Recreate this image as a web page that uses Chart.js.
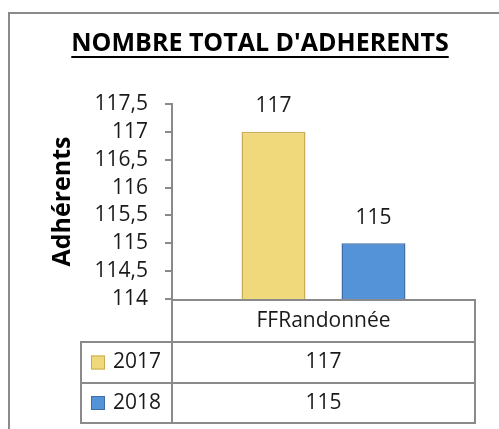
<!DOCTYPE html>
<html>
<head>
<meta charset="utf-8">
<script src="https://cdn.jsdelivr.net/npm/chart.js@4.4.0/dist/chart.umd.min.js"></script>
<style>
  html,body{margin:0;padding:0;background:#fff;}
  canvas{display:block;}
</style>
</head>
<body>
<canvas id="chart" width="499" height="429"></canvas>
<script>
// data
const chartTitle = "NOMBRE TOTAL D'ADHERENTS";
const yTitle = "Adhérents";
const categories = ["FFRandonnée"];
const seriesNames = ["2017", "2018"];
const values2017 = [117];
const values2018 = [115];
const yMin = 114, yMax = 117.5, yStep = 0.5;

const colors = { "2017": "#efd97a", "2018": "#5593d9" };
const borders = { "2017": "#c9ac55", "2018": "#3e6da8" };
const FONT = "'Open Sans', sans-serif";
const GRAY = "#8a8a8a";

const fmt = v => String(v).replace(".", ",");

// frame + title
const framePlugin = {
  id: "frame",
  beforeDraw(chart){
    const c = chart.ctx;
    c.save();
    c.strokeStyle = GRAY; c.lineWidth = 2;
    c.beginPath();
    c.moveTo(9, chart.height); c.lineTo(9, 13); c.lineTo(chart.width, 13);
    c.stroke();
    c.fillStyle = "#000";
    c.font = "bold 25px " + FONT;
    c.textAlign = "center"; c.textBaseline = "alphabetic";
    c.fillText(chartTitle, 260, 51);
    const w = c.measureText(chartTitle).width;
    c.fillRect(260 - w/2, 56, w, 2);
    c.restore();
  }
};

// value labels over bars
const labelPlugin = {
  id: "barLabels",
  afterDatasetsDraw(chart){
    const c = chart.ctx;
    c.save();
    c.fillStyle = "#1a1a1a";
    c.font = "21px " + FONT;
    c.textAlign = "center"; c.textBaseline = "bottom";
    chart.data.datasets.forEach((ds, i) => {
      chart.getDatasetMeta(i).data.forEach((bar, j) => {
        c.fillText(fmt(ds.data[j]), bar.x, bar.y - 15);
      });
    });
    c.restore();
  }
};

// data table under the plot
const tablePlugin = {
  id: "dataTable",
  afterDraw(chart){
    const c = chart.ctx;
    const a = chart.chartArea;
    const xs = chart.scales.x;
    const top = a.bottom + 1, rowH = [42, 41, 40];
    const labelL = 81;
    c.save();
    c.strokeStyle = GRAY; c.lineWidth = 2;
    c.fillStyle = "#1a1a1a";
    c.font = "21px " + FONT;
    c.textBaseline = "middle";
    // header
    let y = top;
    c.strokeRect(a.left, y, a.right - a.left, rowH[0]);
    c.textAlign = "center";
    categories.forEach((cat, i) => c.fillText(cat, xs.getPixelForValue(i), y + rowH[0]/2));
    y += rowH[0];
    chart.data.datasets.forEach((ds, i) => {
      const h = rowH[i + 1];
      c.strokeRect(labelL, y, a.left - labelL, h);
      c.strokeRect(a.left, y, a.right - a.left, h);
      // legend key
      c.fillStyle = ds.backgroundColor;
      c.fillRect(labelL + 10, y + h/2 - 7, 14, 14);
      c.strokeStyle = ds.borderColor; c.lineWidth = 1;
      c.strokeRect(labelL + 10.5, y + h/2 - 6.5, 13, 13);
      c.strokeStyle = GRAY; c.lineWidth = 2;
      c.fillStyle = "#1a1a1a";
      c.textAlign = "left";
      c.fillText(ds.label, labelL + 32, y + h/2);
      c.textAlign = "center";
      ds.data.forEach((v, j) => c.fillText(fmt(v), xs.getPixelForValue(j), y + h/2));
      y += h;
    });
    c.restore();
  }
};

new Chart(document.getElementById("chart"), {
  type: "bar",
  data: {
    labels: categories,
    datasets: [
      { label: seriesNames[0], data: values2017, backgroundColor: colors["2017"], borderColor: borders["2017"], borderWidth: 1.5 },
      { label: seriesNames[1], data: values2018, backgroundColor: colors["2018"], borderColor: borders["2018"], borderWidth: 1.5 }
    ]
  },
  options: {
    responsive: false,
    animation: false,
    categoryPercentage: 0.66,
    barPercentage: 0.64,
    layout: { padding: { left: 9, top: 104, right: 24, bottom: 130 } },
    plugins: { legend: { display: false }, tooltip: { enabled: false }, title: { display: false } },
    scales: {
      x: { display: false },
      y: {
        min: yMin, max: yMax,
        afterFit: s => { s.width = 163; },
        ticks: { stepSize: yStep, autoSkip: false, padding: 17, color: "#1a1a1a", font: { family: FONT, size: 21 }, callback: v => fmt(v) },
        grid: { drawOnChartArea: false, drawTicks: true, tickLength: 7, color: GRAY, lineWidth: 2 },
        border: { display: true, color: GRAY, width: 2 },
        title: { display: true, text: yTitle, color: "#000", font: { family: FONT, size: 25, weight: "bold" }, padding: { top: 39, bottom: 0 } }
      }
    }
  },
  plugins: [framePlugin, labelPlugin, tablePlugin]
});
</script>
</body>
</html>
